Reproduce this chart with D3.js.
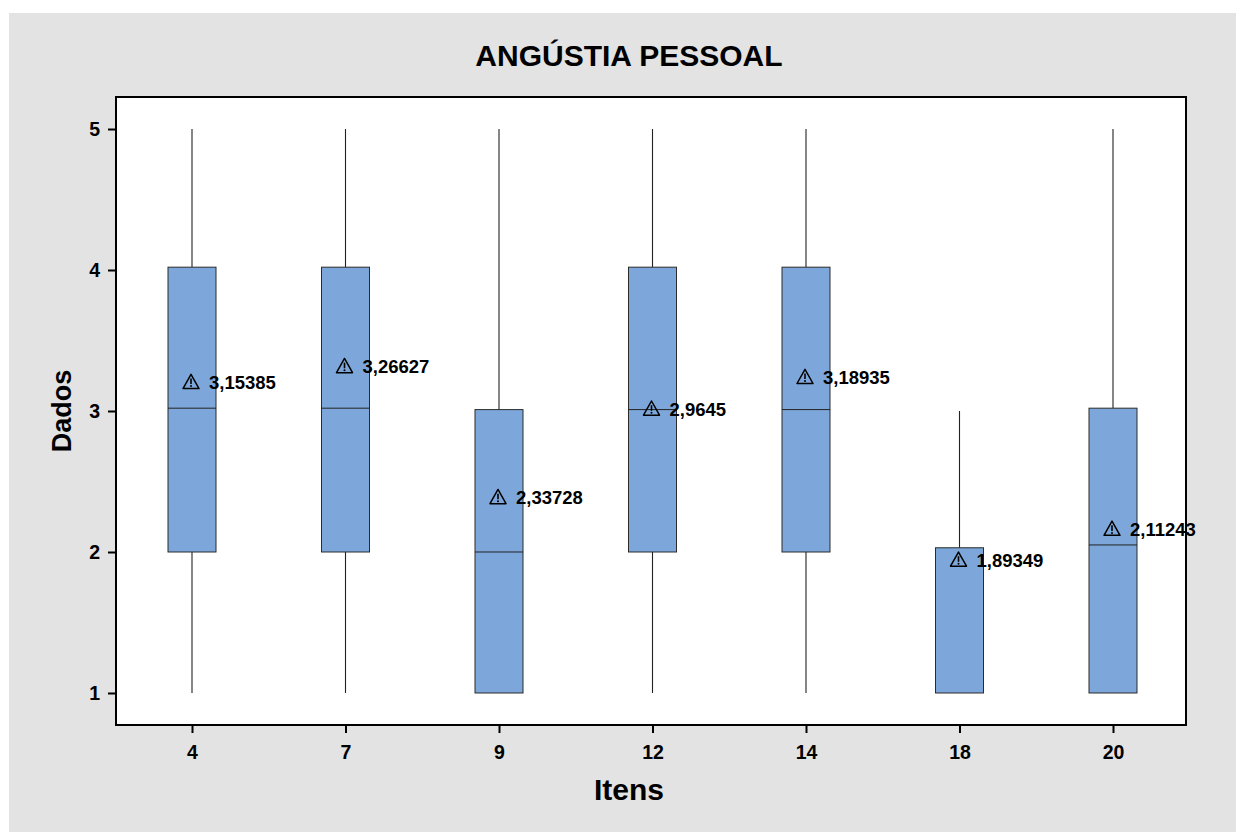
<!DOCTYPE html>
<html>
<head>
<meta charset="utf-8">
<script src="https://cdn.jsdelivr.net/npm/d3@7"></script>
<style>
  html, body { margin: 0; padding: 0; background: #ffffff; }
  svg { display: block; font-family: "Liberation Sans", Arial, sans-serif; }
</style>
</head>
<body>
<script>
// Box-plot summary per item (Likert scale 1–5)
const items    = ["4", "7", "9", "12", "14", "18", "20"];
const whiskLo  = [1, 1, 1, 1, 1, 1, 1];
const q1       = [2, 2, 1, 2, 2, 1, 1];
const medians  = [3.02, 3.02, 2, 3.01, 3.01, 1, 2.05];
const q3       = [4.02, 4.02, 3.01, 4.02, 4.02, 2.03, 3.02];
const whiskHi  = [5, 5, 5, 5, 5, 3, 5];
const means    = [3.15385, 3.26627, 2.33728, 2.9645, 3.18935, 1.89349, 2.11243];
const meanText = ["3,15385", "3,26627", "2,33728", "2,9645", "3,18935", "1,89349", "2,11243"];
const yTicks   = [1, 2, 3, 4, 5];

const W = 1236, H = 832;
const plot = { left: 116, right: 1186, top: 97, bottom: 725 };

const svg = d3.select("body").append("svg")
  .attr("width", W).attr("height", H);

// Outer panel
svg.append("rect").attr("x", 9).attr("y", 13)
  .attr("width", W - 9).attr("height", H - 13)
  .attr("fill", "#e3e3e3");

// Plot area
svg.append("rect")
  .attr("x", plot.left).attr("y", plot.top)
  .attr("width", plot.right - plot.left).attr("height", plot.bottom - plot.top)
  .attr("fill", "#ffffff");

const x = d3.scalePoint().domain(items).range([192, 1113]).padding(0);
const y = d3.scaleLinear().domain([0.773, 5.227]).range([plot.bottom, plot.top]);
const boxW = 48;

const data = items.map((k, i) => ({
  k, lo: whiskLo[i], q1: q1[i], med: medians[i], q3: q3[i], hi: whiskHi[i],
  mean: means[i], label: meanText[i]
}));

const g = svg.append("g");
const cx = d => x(d.k);

// Whiskers
g.selectAll(".wu").data(data.filter(d => d.hi > d.q3)).join("line")
  .attr("x1", cx).attr("x2", cx)
  .attr("y1", d => y(d.q3)).attr("y2", d => y(d.hi))
  .attr("stroke", "#222").attr("stroke-width", 1.1);
g.selectAll(".wl").data(data.filter(d => d.lo < d.q1)).join("line")
  .attr("x1", cx).attr("x2", cx)
  .attr("y1", d => y(d.lo)).attr("y2", d => y(d.q1))
  .attr("stroke", "#222").attr("stroke-width", 1.1);

// Boxes
g.selectAll(".box").data(data).join("rect")
  .attr("x", d => cx(d) - boxW / 2)
  .attr("y", d => y(d.q3))
  .attr("width", boxW)
  .attr("height", d => y(d.q1) - y(d.q3))
  .attr("fill", "#7da7da")
  .attr("stroke", "#2b2b2b").attr("stroke-width", 1);

// Medians (skipped where the median sits on the box edge)
g.selectAll(".med").data(data.filter(d => d.med > d.q1 && d.med < d.q3)).join("line")
  .attr("x1", d => cx(d) - boxW / 2).attr("x2", d => cx(d) + boxW / 2)
  .attr("y1", d => y(d.med)).attr("y2", d => y(d.med))
  .attr("stroke", "#222").attr("stroke-width", 1);

// Mean markers: outlined warning triangle resting on the mean
const tri = g.selectAll(".mean").data(data).join("g")
  .attr("transform", d => `translate(${cx(d) - 1},${y(d.mean)})`);
tri.append("path")
  .attr("d", "M-8,-0.8 L0,-15 L8,-0.8 Z")
  .attr("fill", "none").attr("stroke", "#000").attr("stroke-width", 1.5)
  .attr("stroke-linejoin", "round");
tri.append("line")
  .attr("x1", 0).attr("x2", 0).attr("y1", -10.8).attr("y2", -5.2)
  .attr("stroke", "#000").attr("stroke-width", 1.6);
tri.append("circle").attr("cx", 0).attr("cy", -3.2).attr("r", 1).attr("fill", "#000");

// Mean values
g.selectAll(".mt").data(data).join("text")
  .attr("x", d => cx(d) + 17)
  .attr("y", d => y(d.mean))
  .attr("font-size", 18.5).attr("font-weight", "bold").attr("fill", "#000")
  .text(d => d.label);

// Axes
const yAxis = d3.axisLeft(y).tickValues(yTicks).tickSize(8).tickPadding(8).tickFormat(d3.format("d"));
const ya = svg.append("g").attr("transform", `translate(${plot.left},0)`).call(yAxis);
ya.select(".domain").remove();
ya.selectAll("line").attr("stroke", "#000").attr("stroke-width", 2);
ya.selectAll("text").attr("font-size", 19.5).attr("font-weight", "bold")
  .attr("fill", "#000").attr("font-family", "Liberation Sans, Arial, sans-serif");

const xAxis = d3.axisBottom(x).tickSize(8).tickPadding(12);
const xa = svg.append("g").attr("transform", `translate(0,${plot.bottom})`).call(xAxis);
xa.select(".domain").remove();
xa.selectAll("line").attr("stroke", "#000").attr("stroke-width", 2);
xa.selectAll("text").attr("font-size", 19.5).attr("font-weight", "bold")
  .attr("fill", "#000").attr("font-family", "Liberation Sans, Arial, sans-serif");

// Frame
svg.append("rect")
  .attr("x", plot.left).attr("y", plot.top)
  .attr("width", plot.right - plot.left).attr("height", plot.bottom - plot.top)
  .attr("fill", "none").attr("stroke", "#000").attr("stroke-width", 2);

// Titles
svg.append("text")
  .attr("x", 629).attr("y", 66)
  .attr("text-anchor", "middle").attr("font-size", 30).attr("font-weight", "bold")
  .text("ANGÚSTIA PESSOAL");

svg.append("text")
  .attr("x", 629).attr("y", 800)
  .attr("text-anchor", "middle").attr("font-size", 30).attr("font-weight", "bold")
  .text("Itens");

svg.append("text")
  .attr("transform", `translate(71,${(plot.top + plot.bottom) / 2}) rotate(-90)`)
  .attr("text-anchor", "middle").attr("font-size", 27).attr("font-weight", "bold")
  .text("Dados");
</script>
</body>
</html>
